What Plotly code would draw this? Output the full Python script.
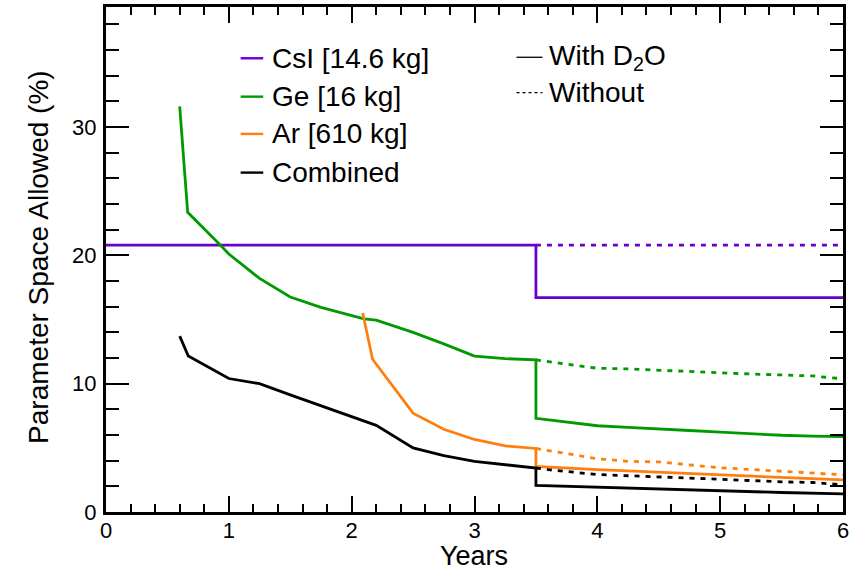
import plotly.graph_objects as go

# ---- data: fraction of parameter space still allowed vs. exposure time ----
csi_with_x = [0.0, 3.5, 3.5, 6.0]
csi_with_y = [20.8, 20.8, 16.7, 16.7]
csi_without_x = [3.5, 6.0]
csi_without_y = [20.8, 20.8]

ge_with_x = [0.60, 0.665, 0.93, 1.0, 1.25, 1.5, 1.75, 2.0, 2.1, 2.2, 2.5, 2.75, 3.0,
             3.25, 3.5, 3.5, 3.75, 4.0, 4.25, 4.5, 4.75, 5.0, 5.25, 5.5, 5.75, 6.0]
ge_with_y = [31.6, 23.35, 20.8, 20.1, 18.2, 16.75, 15.95, 15.35, 15.05, 14.95, 14.0, 13.1, 12.15,
             11.95, 11.85, 7.3, 7.0, 6.72, 6.6, 6.5, 6.35, 6.22, 6.1, 5.98, 5.92, 5.87]
ge_without_x = [3.5, 3.75, 4.0, 4.25, 4.5, 4.75, 5.0, 5.25, 5.5, 5.75, 6.0]
ge_without_y = [11.85, 11.5, 11.2, 11.15, 11.05, 10.95, 10.8, 10.75, 10.68, 10.6, 10.38]

ar_with_x = [2.09, 2.17, 2.5, 2.75, 3.0, 3.25, 3.5, 3.5, 4.0, 4.5, 5.0, 5.5, 6.0]
ar_with_y = [15.5, 11.9, 7.7, 6.45, 5.65, 5.15, 4.95, 3.55, 3.3, 3.1, 2.85, 2.65, 2.5]
ar_without_x = [3.5, 3.75, 4.0, 4.25, 4.5, 5.0, 5.5, 6.0]
ar_without_y = [4.95, 4.55, 4.15, 3.95, 3.9, 3.45, 3.2, 2.9]

comb_with_x = [0.6, 0.67, 1.0, 1.25, 1.5, 1.75, 2.07, 2.2, 2.5, 2.75, 3.0, 3.25, 3.5,
               3.5, 3.75, 4.0, 4.5, 5.0, 5.5, 6.0]
comb_with_y = [13.7, 12.15, 10.4, 10.0, 9.13, 8.28, 7.18, 6.75, 5.0, 4.4, 3.95, 3.7, 3.42,
               2.07, 2.0, 1.9, 1.8, 1.62, 1.52, 1.42]
comb_without_x = [3.5, 3.6, 4.0, 4.5, 5.0, 5.5, 5.75, 6.0]
comb_without_y = [3.42, 3.3, 2.92, 2.75, 2.55, 2.35, 2.3, 2.12]

labels = ["CsI [14.6 kg]", "Ge [16 kg]", "Ar [610 kg]", "Combined"]
colors = ["#6a00d0", "#009a00", "#ff7f0e", "#000000"]
style_labels = ["With D<sub>2</sub>O", "Without"]

x_ticks = [0, 1, 2, 3, 4, 5, 6]
y_ticks = [0, 10, 20, 30]

series = [
    (csi_with_x, csi_with_y, csi_without_x, csi_without_y),
    (ge_with_x, ge_with_y, ge_without_x, ge_without_y),
    (ar_with_x, ar_with_y, ar_without_x, ar_without_y),
    (comb_with_x, comb_with_y, comb_without_x, comb_without_y),
]

FONT = "Liberation Sans, Arial, Helvetica, sans-serif"
LW = 2.8
DOT = "5px,6px"

# plot frame in pixels
L, R, T, B = 106, 843.3, 7, 512.3


def px_to_paper(px, py):
    return (px - L) / (R - L), (B - py) / (B - T)


fig = go.Figure()
for (xw, yw, xo, yo), name, col in zip(series, labels, colors):
    fig.add_trace(go.Scatter(x=xo, y=yo, mode="lines", name=name + " (without)",
                             line=dict(color=col, width=LW, dash=DOT), showlegend=False))
    fig.add_trace(go.Scatter(x=xw, y=yw, mode="lines", name=name,
                             line=dict(color=col, width=LW), showlegend=False))

# hand-placed legend blocks
shapes = []
annotations = []
leg_rows_px = [58.3, 96.7, 134.0, 172.7]
for py, name, col in zip(leg_rows_px, labels, colors):
    x0, yv = px_to_paper(240.7, py)
    x1, _ = px_to_paper(263.3, py)
    xt, _ = px_to_paper(270.0, py)
    shapes.append(dict(type="line", xref="paper", yref="paper", x0=x0, x1=x1, y0=yv, y1=yv,
                       line=dict(color=col, width=2.4)))
    annotations.append(dict(x=xt, y=yv, xref="paper", yref="paper", text=name, showarrow=False,
                            xanchor="left", yanchor="middle",
                            font=dict(family=FONT, size=28, color="black")))

style_rows_px = [57.3, 92.7]
for py, txt, dash in zip(style_rows_px, style_labels, ["solid", "3px,3px"]):
    x0, yv = px_to_paper(516.7, py)
    x1, _ = px_to_paper(542.7, py)
    xt, _ = px_to_paper(547.5, py)
    shapes.append(dict(type="line", xref="paper", yref="paper", x0=x0, x1=x1, y0=yv, y1=yv,
                       line=dict(color="black", width=1.3, dash=dash)))
    annotations.append(dict(x=xt, y=yv, xref="paper", yref="paper", text=txt, showarrow=False,
                            xanchor="left", yanchor="middle",
                            font=dict(family=FONT, size=28, color="black")))

# axis titles
tx, ty = px_to_paper(39, 257)
annotations.append(dict(x=tx, y=ty, xref="paper", yref="paper", text="Parameter Space Allowed (%)",
                        showarrow=False, textangle=-90, xanchor="center", yanchor="middle",
                        font=dict(family=FONT, size=28, color="black")))
tx, ty = px_to_paper(474, 556)
annotations.append(dict(x=tx, y=ty, xref="paper", yref="paper", text="Years",
                        showarrow=False, xanchor="center", yanchor="middle",
                        font=dict(family=FONT, size=27, color="black")))

fig.update_layout(
    width=859, height=571,
    margin=dict(l=L, r=859 - R, t=T, b=571 - B),
    paper_bgcolor="white", plot_bgcolor="white",
    font=dict(family=FONT, color="black"),
    shapes=shapes,
    annotations=annotations,
    showlegend=False,
)

fig.update_xaxes(
    range=[0, 6], tickvals=x_ticks, ticktext=[str(v) for v in x_ticks],
    showgrid=False, zeroline=False, automargin=False,
    showline=True, linecolor="black", linewidth=3, mirror="allticks",
    ticks="inside", ticklen=16, tickwidth=1.6, tickcolor="black",
    minor=dict(dtick=0.2, ticks="inside", ticklen=8, tickwidth=1.6, tickcolor="black", showgrid=False),
    tickfont=dict(family=FONT, size=22, color="black"),
    ticklabelstandoff=-3,
)
fig.update_yaxes(
    range=[0, 39.35], tickvals=y_ticks, ticktext=[str(v) for v in y_ticks],
    showgrid=False, zeroline=False, automargin=False,
    showline=True, linecolor="black", linewidth=3, mirror="allticks",
    ticks="inside", ticklen=23, tickwidth=1.6, tickcolor="black",
    minor=dict(dtick=2, ticks="inside", ticklen=13, tickwidth=1.6, tickcolor="black", showgrid=False),
    tickfont=dict(family=FONT, size=22, color="black"),
    ticklabelstandoff=2,
)

fig.write_html("out.html")
